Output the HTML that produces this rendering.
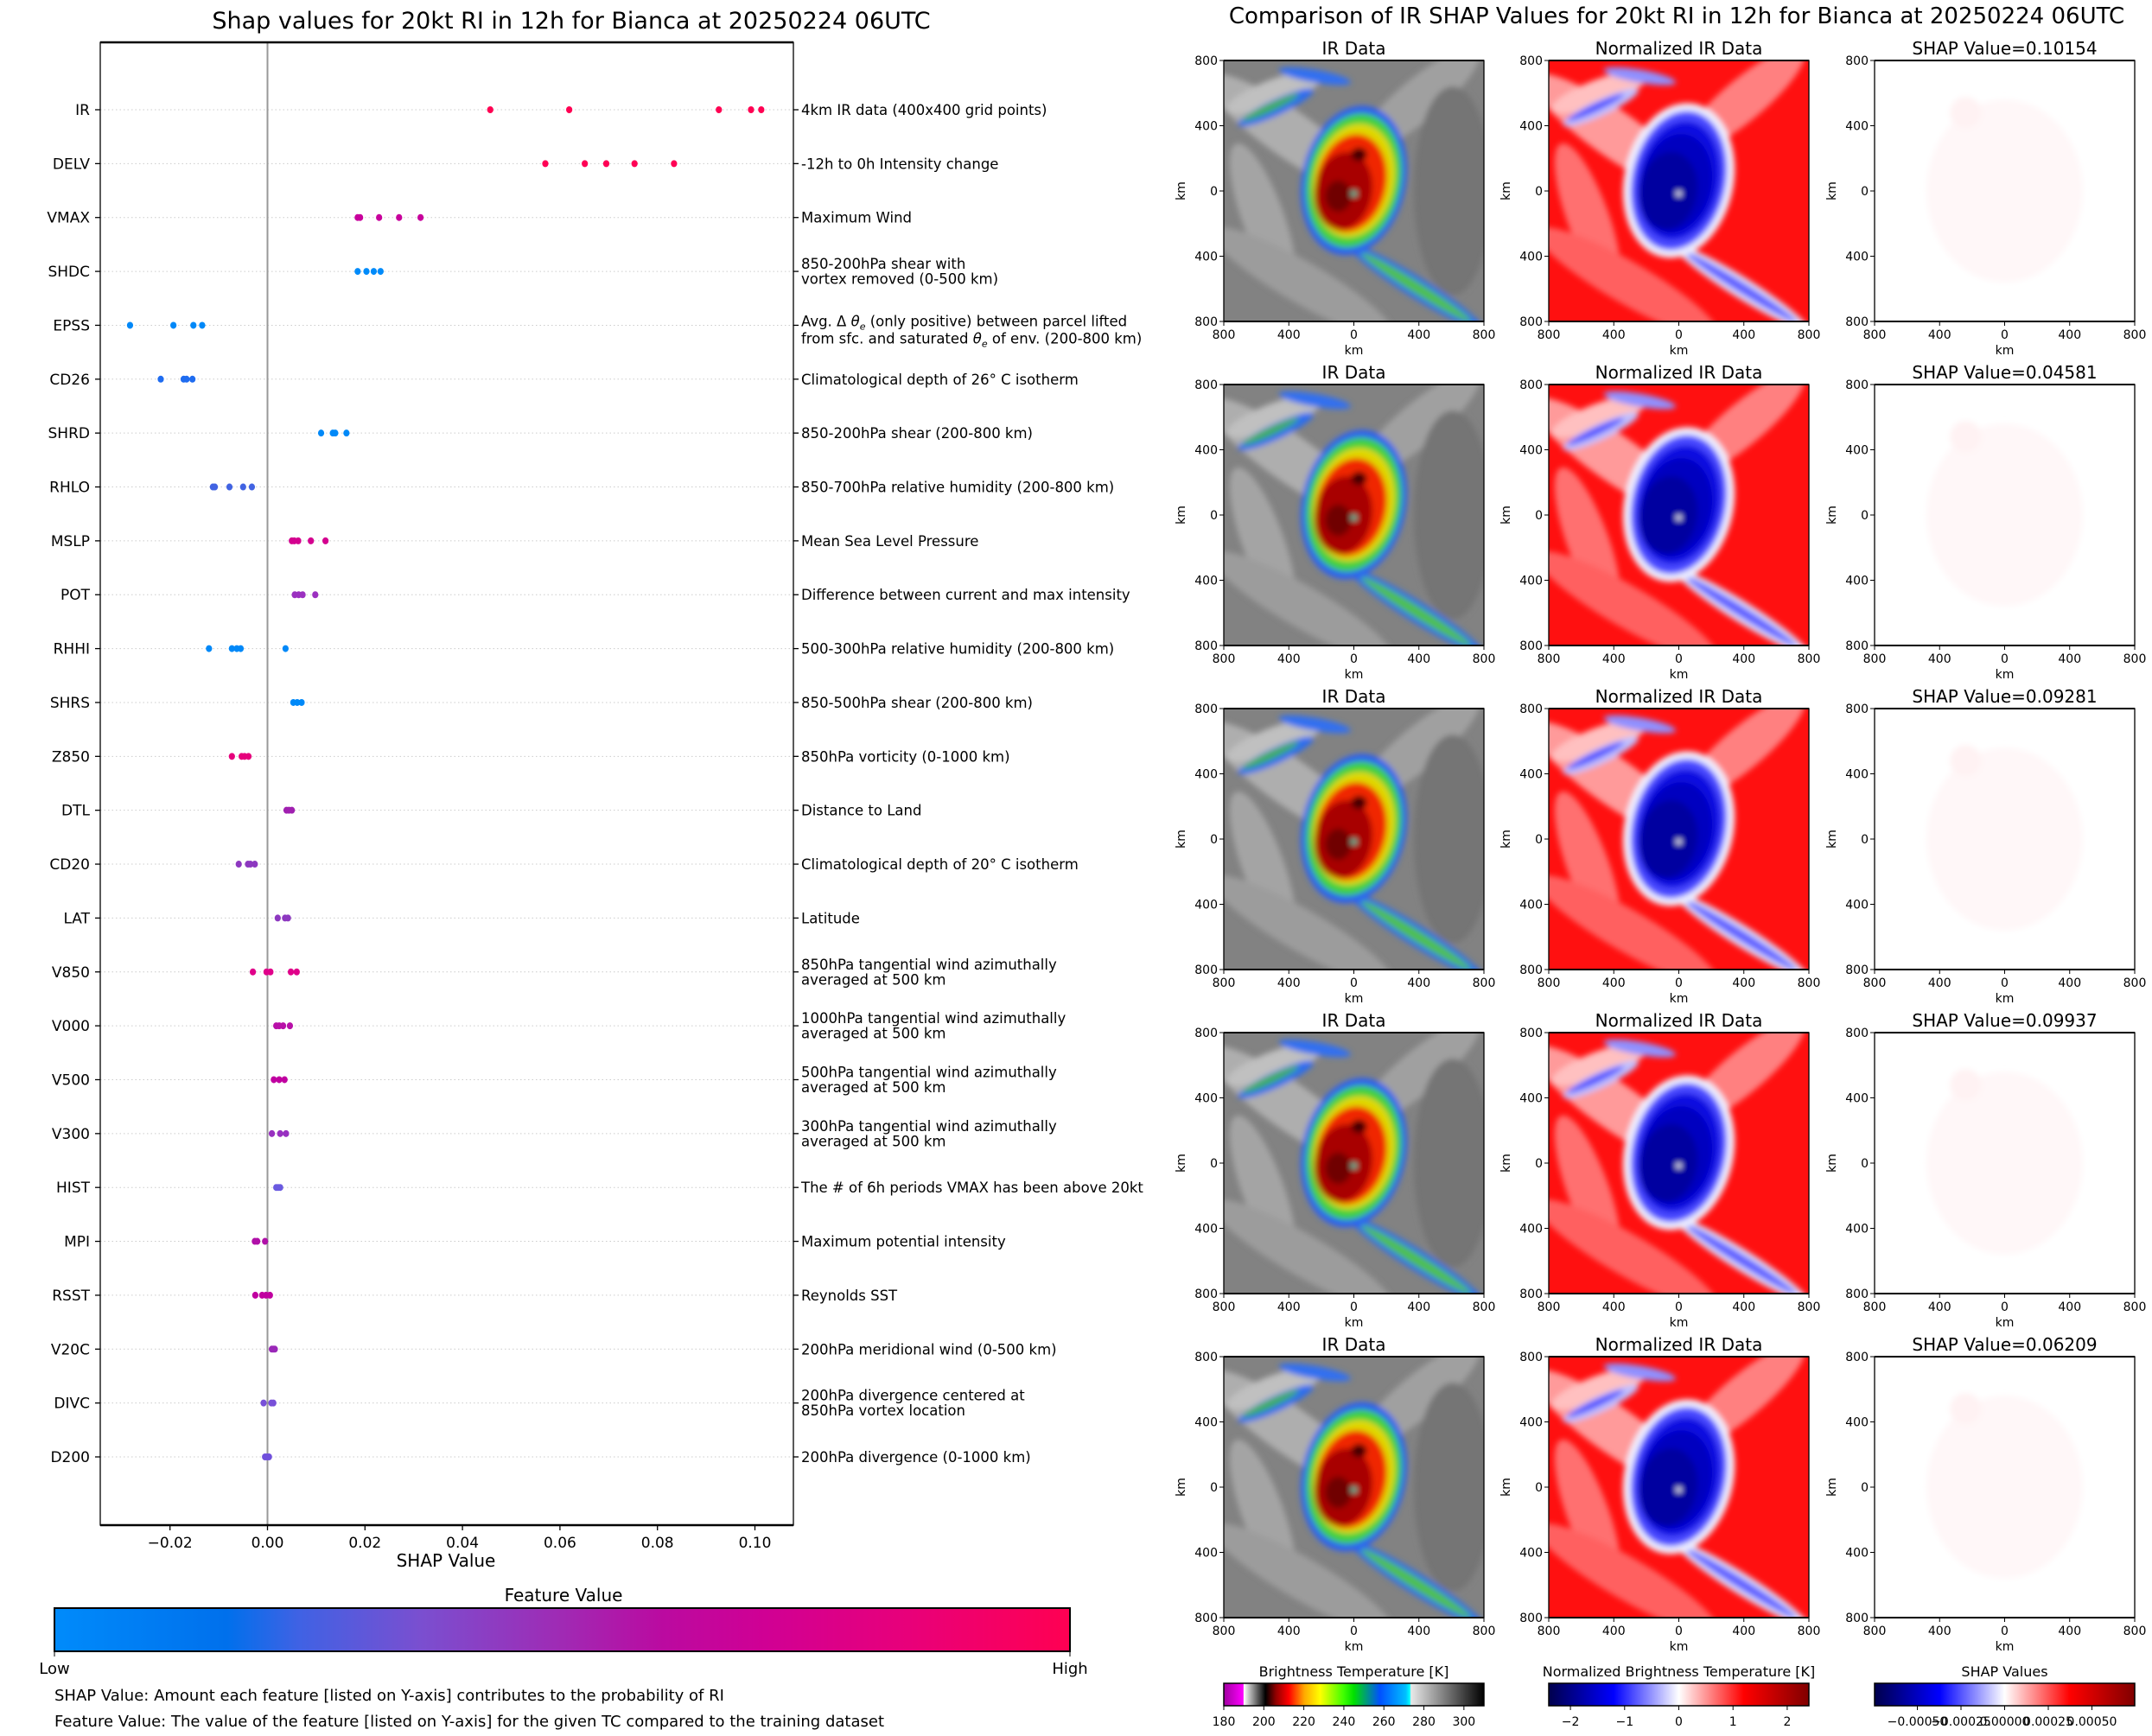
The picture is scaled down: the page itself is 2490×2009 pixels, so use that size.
<!DOCTYPE html>
<html><head><meta charset="utf-8">
<style>
html,body{margin:0;padding:0;background:#fff;}
svg{display:block;font-family:"DejaVu Sans","Liberation Sans",sans-serif;}
</style></head>
<body>
<svg id="fig" xmlns="http://www.w3.org/2000/svg" width="2490" height="2009" viewBox="0 0 2490 2009">
<defs>
  <linearGradient id="gFeat" x1="0" x2="1" y1="0" y2="0">
    <stop offset="0" stop-color="#008bfb"/><stop offset="0.17" stop-color="#0070ec"/>
    <stop offset="0.24" stop-color="#3f62e4"/><stop offset="0.36" stop-color="#7a4fd0"/>
    <stop offset="0.5" stop-color="#a02ab4"/><stop offset="0.6" stop-color="#bb0aa0"/>
    <stop offset="0.7" stop-color="#d00094"/><stop offset="0.84" stop-color="#e8007a"/>
    <stop offset="1" stop-color="#ff0052"/>
  </linearGradient>
  <linearGradient id="gIR" x1="0" x2="1" y1="0" y2="0">
    <stop offset="0" stop-color="#a000a0"/><stop offset="0.075" stop-color="#ff00ff"/>
    <stop offset="0.077" stop-color="#ffffff"/><stop offset="0.16" stop-color="#000000"/>
    <stop offset="0.2" stop-color="#900000"/><stop offset="0.25" stop-color="#ff0000"/>
    <stop offset="0.31" stop-color="#ffaa00"/><stop offset="0.37" stop-color="#ffff00"/>
    <stop offset="0.46" stop-color="#40ff00"/><stop offset="0.5" stop-color="#00e000"/>
    <stop offset="0.6" stop-color="#0050ff"/><stop offset="0.7" stop-color="#00c0ff"/>
    <stop offset="0.715" stop-color="#00ffff"/><stop offset="0.72" stop-color="#e8e8e8"/>
    <stop offset="1" stop-color="#000000"/>
  </linearGradient>
  <linearGradient id="gSeis" x1="0" x2="1" y1="0" y2="0">
    <stop offset="0" stop-color="#00004c"/><stop offset="0.25" stop-color="#0000ff"/>
    <stop offset="0.5" stop-color="#ffffff"/><stop offset="0.75" stop-color="#ff0000"/>
    <stop offset="1" stop-color="#800000"/>
  </linearGradient>
  <filter id="blur2" x="-20%" y="-20%" width="140%" height="140%"><feGaussianBlur stdDeviation="3.5"/></filter>
</defs>
<g id="left"></g>
<g id="right"></g>
</svg>
<script>
// ---------- data ----------
const features = ["IR","DELV","VMAX","SHDC","EPSS","CD26","SHRD","RHLO","MSLP","POT","RHHI","SHRS","Z850","DTL","CD20","LAT","V850","V000","V500","V300","HIST","MPI","RSST","V20C","DIVC","D200"];
const descriptions = [
 ["4km IR data (400x400 grid points)"],["-12h to 0h Intensity change"],["Maximum Wind"],
 ["850-200hPa shear with","vortex removed (0-500 km)"],
 ["EPSS1","EPSS2"],
 ["Climatological depth of 26° C isotherm"],["850-200hPa shear (200-800 km)"],
 ["850-700hPa relative humidity (200-800 km)"],["Mean Sea Level Pressure"],
 ["Difference between current and max intensity"],["500-300hPa relative humidity (200-800 km)"],
 ["850-500hPa shear (200-800 km)"],["850hPa vorticity (0-1000 km)"],["Distance to Land"],
 ["Climatological depth of 20° C isotherm"],["Latitude"],
 ["850hPa tangential wind azimuthally","averaged at 500 km"],
 ["1000hPa tangential wind azimuthally","averaged at 500 km"],
 ["500hPa tangential wind azimuthally","averaged at 500 km"],
 ["300hPa tangential wind azimuthally","averaged at 500 km"],
 ["The # of 6h periods VMAX has been above 20kt"],["Maximum potential intensity"],["Reynolds SST"],
 ["200hPa meridional wind (0-500 km)"],
 ["200hPa divergence centered at","850hPa vortex location"],["200hPa divergence (0-1000 km)"]
];
const shapValues = [
 [0.0457,0.0619,0.0926,0.0992,0.1013],
 [0.0570,0.0651,0.0695,0.0753,0.0834],
 [0.0185,0.0190,0.0229,0.0270,0.0314],
 [0.0185,0.0203,0.0218,0.0232],
 [-0.0282,-0.0193,-0.0152,-0.0134],
 [-0.0219,-0.0172,-0.0166,-0.0154],
 [0.0110,0.0134,0.0139,0.0162],
 [-0.0112,-0.0108,-0.0078,-0.0050,-0.0032],
 [0.0050,0.0055,0.0063,0.0089,0.0119],
 [0.0056,0.0064,0.0072,0.0098],
 [-0.0120,-0.0073,-0.0063,-0.0055,0.0037],
 [0.0053,0.0061,0.0070],
 [-0.0073,-0.0053,-0.0047,-0.0039],
 [0.0039,0.0044,0.0050],
 [-0.0059,-0.0040,-0.0035,-0.0026],
 [0.0021,0.0036,0.0042],
 [-0.0030,-0.0002,0.0006,0.0048,0.0060],
 [0.0018,0.0024,0.0032,0.0046],
 [0.0013,0.0024,0.0035],
 [0.0009,0.0026,0.0038],
 [0.0018,0.0022,0.0026],
 [-0.0026,-0.0021,-0.0005],
 [-0.0025,-0.0011,-0.0003,0.0005],
 [0.0009,0.0012,0.0015],
 [-0.0008,0.0008,0.0012],
 [-0.0005,-0.0001,0.0003]
];
const rowColors = ["#ff0052","#ff0055","#c8009c","#008bfa","#0088f8","#1f6cf0","#0089f8","#4163e2","#d4008f","#9b30c0","#0088f8","#0089f8","#e6007c","#a020b0","#8d38c0","#8d38c0","#e0008a","#b810a8","#c000a0","#9830c0","#6a5ae0","#b010a8","#c000a0","#9a28b8","#7850d8","#7050dc"];
const xTicks = [-0.02,0,0.02,0.04,0.06,0.08,0.10];
const xTickLabels = ["\u22120.02","0.00","0.02","0.04","0.06","0.08","0.10"];
const shapTitles = ["SHAP Value=0.10154","SHAP Value=0.04581","SHAP Value=0.09281","SHAP Value=0.09937","SHAP Value=0.06209"];
const irTicks = [180,200,220,240,260,280,300];
const normTicks = [-2,-1,0,1,2];
const shapTicks = [-0.0005,-0.00025,0,0.00025,0.0005];
const shapTickLabels = ["\u22120.00050","\u22120.00025","0.00000","0.00025","0.00050"];

// ---------- helpers ----------
const NS="http://www.w3.org/2000/svg";
function mk(tag, attrs, parent, text){
  const e=document.createElementNS(NS,tag);
  for(const k in attrs) e.setAttribute(k,attrs[k]);
  if(text!==undefined) e.textContent=text;
  parent.appendChild(e); return e;
}
const L=document.getElementById('left');
const R=document.getElementById('right');

// ---------- left axes ----------
const AX={l:116,r:918,t:49,b:1765};
const x0=309.5, pxPer=5640;
function xs(v){return x0+v*pxPer;}
function ys(i){return 127+i*62.36;}

let t=mk('text',{x:661,y:33,'text-anchor':'middle','font-size':27},L,"Shap values for 20kt RI in 12h for Bianca at 20250224 06UTC");



features.forEach((f,i)=>{
  const y=ys(i);
  const gl=mk('line',{x1:AX.l,x2:AX.r,y1:y,y2:y,stroke:'#cccccc','stroke-width':1,'stroke-dasharray':'1.5,3'},L);
  
  
});
let zl=mk('line',{x1:xs(0),x2:xs(0),y1:AX.t,y2:AX.b,stroke:'#999999','stroke-width':2},L);



features.forEach((f,i)=>{
  const y=ys(i);
  mk('line',{x1:AX.l-6,x2:AX.l,y1:y,y2:y,stroke:'#000','stroke-width':1.3},L);
  mk('line',{x1:AX.r,x2:AX.r+6,y1:y,y2:y,stroke:'#000','stroke-width':1.3},L);
  const lab=mk('text',{x:AX.l-12,y:y+6,'text-anchor':'end','font-size':17},L,f);
  
  
  const d=descriptions[i];
  let dt;
  const tx=AX.r+9;
  if(f==="EPSS"){
    dt=mk('text',{x:tx,y:y+1,'font-size':16.5},L);
    dt.innerHTML='Avg. \u0394 <tspan font-style="italic">\u03b8</tspan><tspan font-size="11" dy="4" font-style="italic">e</tspan><tspan dy="-4"> (only positive) between parcel lifted</tspan>'+
      '<tspan x="'+tx+'" dy="20">from sfc. and saturated </tspan><tspan font-style="italic">\u03b8</tspan><tspan font-size="11" dy="4" font-style="italic">e</tspan><tspan dy="-4"> of env. (200-800 km)</tspan>';
  } else if(d.length===1){
    dt=mk('text',{x:tx,y:y+6,'font-size':16.5},L,d[0]);
  } else {
    dt=mk('text',{x:tx,y:y-3,'font-size':16.5},L);
    mk('tspan',{x:tx},dt,d[0]);
    mk('tspan',{x:tx,dy:17.5},dt,d[1]);
  }
  
  
  shapValues[i].forEach(v=>{
    const c=mk('ellipse',{cx:xs(v),cy:y,rx:3.6,ry:4,fill:rowColors[i]},L);
    
    
  });
});
let box=mk('rect',{x:AX.l,y:AX.t,width:AX.r-AX.l,height:AX.b-AX.t,fill:'none',stroke:'#000','stroke-width':1.3},L);


mk('line',{x1:AX.l,x2:AX.r,y1:AX.t,y2:AX.t,stroke:'#000','stroke-width':2.5},L);
mk('line',{x1:AX.l,x2:AX.r,y1:AX.b,y2:AX.b,stroke:'#000','stroke-width':2.5},L);
xTicks.forEach((v,k)=>{
  mk('line',{x1:xs(v),x2:xs(v),y1:AX.b,y2:AX.b+6,stroke:'#000','stroke-width':1.3},L);
  const tl=mk('text',{x:xs(v),y:AX.b+26,'text-anchor':'middle','font-size':17},L,xTickLabels[k]);
  
  
});
t=mk('text',{x:516,y:1813,'text-anchor':'middle','font-size':20},L,"SHAP Value");



// feature colorbar
t=mk('text',{x:652,y:1853,'text-anchor':'middle','font-size':20},L,"Feature Value");


let cb=mk('rect',{x:63,y:1861,width:1175,height:50,fill:'url(#gFeat)',stroke:'#000','stroke-width':2},L);


mk('line',{x1:63,x2:63,y1:1911,y2:1917,stroke:'#000'},L);
mk('line',{x1:1238,x2:1238,y1:1911,y2:1917,stroke:'#000'},L);
t=mk('text',{x:63,y:1937,'text-anchor':'middle','font-size':18},L,"Low");


t=mk('text',{x:1238,y:1937,'text-anchor':'middle','font-size':18},L,"High");


t=mk('text',{x:63,y:1968,'font-size':18},L,"SHAP Value: Amount each feature [listed on Y-axis] contributes to the probability of RI");


t=mk('text',{x:63,y:1998,'font-size':18},L,"Feature Value: The value of the feature [listed on Y-axis] for the given TC compared to the training dataset");



// ---------- right panels ----------
t=mk('text',{x:1940,y:27,'text-anchor':'middle','font-size':26},R,"Comparison of IR SHAP Values for 20kt RI in 12h for Bianca at 20250224 06UTC");



const panelX=[1416,1792,2169];
const PW=301, PH=302;
const rowTop=[70,445,820,1195,1570];

// shapes: cx,cy,rx,ry,rot,color (normalized)
const irShapes=[
 [0.25,0.28,0.38,0.09,35,'#aeaeae'],[0.15,0.6,0.3,0.08,70,'#a4a4a4'],[0.3,0.85,0.4,0.08,30,'#9c9c9c'],
 [0.75,0.15,0.3,0.08,-40,'#a0a0a0'],[0.88,0.5,0.15,0.4,0,'#747474'],[0.2,0.12,0.2,0.05,-20,'#c0c0c0'],
 [0.2,0.18,0.16,0.03,-25,'#2a6cf0'],[0.18,0.18,0.12,0.015,-25,'#40b050'],[0.35,0.06,0.14,0.025,10,'#3070f0'],
 [0.74,0.87,0.3,0.04,32,'#2a6cf0'],[0.74,0.87,0.25,0.022,32,'#50c050'],
 [0.5,0.46,0.2,0.29,12,'#2a60f0'],[0.5,0.46,0.18,0.26,12,'#40d040'],[0.5,0.46,0.155,0.22,12,'#e0d800'],
 [0.49,0.47,0.135,0.19,12,'#f02800'],[0.46,0.5,0.11,0.15,10,'#a80000'],[0.44,0.52,0.05,0.06,0,'#700000'],
 [0.52,0.36,0.03,0.025,0,'#400000'],[0.5,0.51,0.012,0.012,0,'#40c0a0']
];
const normShapes=[
 [0.25,0.28,0.38,0.09,35,'#ff9a9a'],[0.15,0.6,0.3,0.08,70,'#ff7070'],[0.3,0.85,0.4,0.08,30,'#ff6060'],
 [0.75,0.15,0.3,0.08,-40,'#ff8080'],[0.2,0.12,0.2,0.05,-20,'#ffc0c0'],
 [0.2,0.18,0.16,0.03,-25,'#c0c0ff'],[0.18,0.18,0.12,0.015,-25,'#5050ff'],[0.35,0.06,0.14,0.025,10,'#9090ff'],
 [0.74,0.87,0.3,0.04,32,'#e0e0ff'],[0.74,0.87,0.25,0.02,32,'#6060ff'],
 [0.5,0.46,0.21,0.3,12,'#f0f0ff'],[0.5,0.46,0.18,0.27,12,'#4848ff'],[0.5,0.46,0.155,0.23,12,'#1010e0'],
 [0.49,0.47,0.135,0.19,12,'#0000c0'],[0.46,0.5,0.11,0.15,10,'#0000a0'],[0.5,0.51,0.01,0.01,0,'#ffffff']
];
const shapShapes=[[0.5,0.5,0.3,0.35,0,'#fff7f8'],[0.35,0.2,0.06,0.06,0,'#fff2f3']];
const tickLbl=["800","400","0","400","800"];

function drawPanel(px,py,kind,title,rowIdx){
  const g=mk('g',{},R);
  
  
  const cid='clip'+kind+rowIdx;
  const cp=mk('clipPath',{id:cid},g); mk('rect',{x:px,y:py,width:PW,height:PH},cp);
  const ig=mk('g',{'clip-path':'url(#'+cid+')'},g);
  const bg = kind==='ir'?'#828282':(kind==='norm'?'#ff1010':'#ffffff');
  mk('rect',{x:px-10,y:py-10,width:PW+20,height:PH+20,fill:bg},ig);
  const shapes = kind==='ir'?irShapes:(kind==='norm'?normShapes:shapShapes);
  const bl=mk('g',{filter:'url(#blur2)'},ig);
  shapes.forEach(s=>{
    const cx=px+s[0]*PW, cy=py+s[1]*PH;
    mk('ellipse',{cx:cx,cy:cy,rx:s[2]*PW,ry:s[3]*PH,fill:s[5],transform:'rotate('+s[4]+' '+cx+' '+cy+')'},bl);
  });
  mk('rect',{x:px,y:py,width:PW,height:PH,fill:'none',stroke:'#000','stroke-width':1.3},g);
  mk('line',{x1:px,x2:px+PW,y1:py,y2:py,stroke:'#000','stroke-width':2},g);
  mk('line',{x1:px,x2:px+PW,y1:py+PH,y2:py+PH,stroke:'#000','stroke-width':2},g);
  const tt=mk('text',{x:px+PW/2,y:py-7,'text-anchor':'middle','font-size':20},g,title);
  
  
  for(let k=0;k<5;k++){
    const yy=py+k*PH/4, xx=px+k*PW/4;
    mk('line',{x1:px-5,x2:px,y1:yy,y2:yy,stroke:'#000'},g);
    mk('line',{x1:xx,x2:xx,y1:py+PH,y2:py+PH+5,stroke:'#000'},g);
    mk('text',{x:px-7,y:yy+5,'text-anchor':'end','font-size':14},g,tickLbl[k]);
    mk('text',{x:xx,y:py+PH+20,'text-anchor':'middle','font-size':14},g,tickLbl[k]);
  }
  mk('text',{x:px+PW/2,y:py+PH+38,'text-anchor':'middle','font-size':14},g,"km");
  mk('text',{x:px-45,y:py+PH/2,'text-anchor':'middle','font-size':14,transform:'rotate(-90 '+(px-45)+' '+(py+PH/2)+')'},g,"km");
}
rowTop.forEach((py,i)=>{
  drawPanel(panelX[0],py,'ir',"IR Data",i);
  drawPanel(panelX[1],py,'norm',"Normalized IR Data",i);
  drawPanel(panelX[2],py,'shap',shapTitles[i],i);
});

// bottom colorbars
function colorbar(x,title,fill,ticks,labels,vmin,vmax,name){
  const g=mk('g',{},R);
  
  
  mk('text',{x:x+PW/2,y:1940,'text-anchor':'middle','font-size':16},g,title);
  mk('rect',{x:x,y:1948,width:PW,height:26,fill:fill,stroke:'#000','stroke-width':1.5},g);
  ticks.forEach((v,k)=>{
    const tx=x+(v-vmin)/(vmax-vmin)*PW;
    mk('line',{x1:tx,x2:tx,y1:1974,y2:1979,stroke:'#000'},g);
    mk('text',{x:tx,y:1997,'text-anchor':'middle','font-size':14},g,labels[k]);
  });
}
colorbar(panelX[0],"Brightness Temperature [K]","url(#gIR)",irTicks,irTicks.map(String),180,310,'brightness-colorbar');
colorbar(panelX[1],"Normalized Brightness Temperature [K]","url(#gSeis)",normTicks,normTicks.map(v=>v<0?"\u2212"+(-v):String(v)),-2.4,2.4,'normalized-colorbar');
colorbar(panelX[2],"SHAP Values","url(#gSeis)",shapTicks,shapTickLabels,-0.000745,0.000745,'shap-colorbar');
</script>
</body></html>
